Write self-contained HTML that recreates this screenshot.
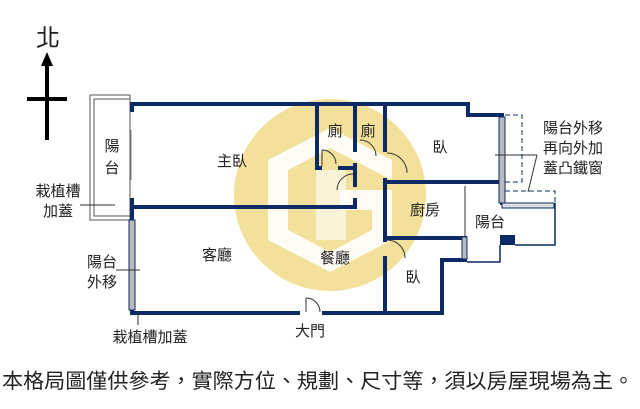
<!DOCTYPE html>
<html><head><meta charset="utf-8"><style>
html,body{margin:0;padding:0;background:#fff;width:640px;height:409px;overflow:hidden}
svg{display:block}
text{font-family:"Liberation Sans","Noto Sans CJK TC",sans-serif;fill:#222}
</style></head><body>
<svg width="640" height="409" viewBox="0 0 640 409" xmlns="http://www.w3.org/2000/svg">
<circle cx="330" cy="195" r="96" fill="#f1dc8a" opacity="0.85"/>
<polygon points="268,160 330,128 392,160 392,180 330,148 288,170 288,230 330,252 372,230 372,210 340,210 340,190 392,190 392,240 330,272 268,240" fill="#fff" opacity="0.9"/>
<rect x="316" y="170" width="30" height="70" fill="#fff" opacity="0.6"/>
<text x="48" y="46" font-size="24" text-anchor="middle">北</text>
<line x1="47" y1="62" x2="47" y2="140" stroke="#000" stroke-width="4"/>
<polygon points="47,52 41,66 53,66" fill="#000"/>
<line x1="27" y1="99" x2="67" y2="99" stroke="#000" stroke-width="4"/>
<rect x="90" y="95" width="40" height="125" fill="none" stroke="#555" stroke-width="1"/>
<rect x="94" y="99" width="36" height="117" fill="none" stroke="#555" stroke-width="1"/>
<line x1="131" y1="130" x2="131" y2="180" stroke="#888" stroke-width="1"/>
<g stroke="#0b2a66" stroke-width="4" fill="none" stroke-linecap="square">
<polyline points="132,104 468,104 468,115 502,115 502,203"/>
<line x1="132" y1="104" x2="132" y2="110"/>
<line x1="132" y1="200" x2="132" y2="312"/>
<line x1="132" y1="207" x2="355" y2="207"/>
<line x1="317" y1="104" x2="317" y2="168"/>
<line x1="317" y1="168" x2="320" y2="168"/>
<line x1="340" y1="168" x2="355" y2="168"/>
<line x1="355" y1="104" x2="355" y2="150"/>
<line x1="355" y1="165" x2="355" y2="185"/>
<line x1="355" y1="200" x2="355" y2="207"/>
<line x1="385" y1="104" x2="385" y2="150"/>
<line x1="385" y1="180" x2="385" y2="240"/>
<line x1="385" y1="258" x2="385" y2="313"/>
<line x1="385" y1="182" x2="502" y2="182"/>
<line x1="385" y1="238" x2="465" y2="238"/>
<polyline points="465,238 465,260 442,260 442,313 132,313"/>
</g>
<rect x="300" y="309" width="22" height="8" fill="#fff"/>
<g stroke="#333" stroke-width="1" fill="none">
<path d="M322,150 A14,14 0 0 1 336,164"/><line x1="322" y1="150" x2="322" y2="166"/>
<path d="M337,190 A16,16 0 0 1 353,174"/>
<path d="M360,140 A16,16 0 0 1 376,156"/>
<path d="M387,153 A20,20 0 0 1 407,173"/>
<path d="M387,240 A18,18 0 0 1 405,258"/>
<path d="M306,298 A14,14 0 0 1 320,312"/><line x1="306" y1="298" x2="306" y2="312"/>
<line x1="465" y1="186" x2="465" y2="236"/>
</g>
<rect x="129" y="220" width="6" height="90" fill="#bbb" stroke="#0b2a66" stroke-width="1"/>
<rect x="499" y="117" width="6" height="86" fill="#bbb" stroke="#0b2a66" stroke-width="1"/>
<rect x="502" y="203" width="52" height="5" fill="#ddd" stroke="#0b2a66" stroke-width="1"/>
<rect x="462" y="237" width="5" height="22" fill="#bbb" stroke="#0b2a66" stroke-width="1"/>
<polyline points="555,203 555,245 515,245" fill="none" stroke="#0b2a66" stroke-width="1.5"/>
<polyline points="500,245 500,262 467,262" fill="none" stroke="#0b2a66" stroke-width="1.5"/>
<rect x="500" y="235" width="15" height="10" fill="#0b2a66"/>
<g stroke="#0b2a66" stroke-width="1" stroke-dasharray="5,3" fill="none">
<polyline points="505,115 522,115 522,182 505,182"/>
<polyline points="505,191 555,191 555,203"/>
</g>
<line x1="495" y1="155" x2="537" y2="155" stroke="#333" stroke-width="1"/>
<line x1="537" y1="155" x2="528" y2="192" stroke="#333" stroke-width="1"/>
<line x1="80" y1="205" x2="115" y2="205" stroke="#333" stroke-width="1"/>
<line x1="116" y1="270" x2="140" y2="270" stroke="#333" stroke-width="1"/>
<line x1="138" y1="312" x2="138" y2="325" stroke="#333" stroke-width="1"/>
<g font-size="15" text-anchor="middle">
<text x="112" y="151">陽</text><text x="112" y="173">台</text>
<text x="232" y="166">主臥</text>
<text x="335" y="136">廁</text><text x="368" y="136">廁</text>
<text x="440" y="152">臥</text>
<text x="425" y="215">廚房</text>
<text x="490" y="227">陽台</text>
<text x="217" y="260">客廳</text>
<text x="335" y="263">餐廳</text>
<text x="413" y="282">臥</text>
<text x="310" y="336">大門</text>
<text x="150" y="342">栽植槽加蓋</text>
<text x="58" y="196">栽植槽</text><text x="58" y="216">加蓋</text>
<text x="102" y="267">陽台</text><text x="102" y="287">外移</text>
<text x="573" y="133">陽台外移</text><text x="573" y="153">再向外加</text><text x="573" y="173">蓋凸鐵窗</text>
</g>
<text x="318" y="388" font-size="20.5" text-anchor="middle" textLength="632" lengthAdjust="spacingAndGlyphs">本格局圖僅供參考，實際方位、規劃、尺寸等，須以房屋現場為主。</text>
</svg>
</body></html>
